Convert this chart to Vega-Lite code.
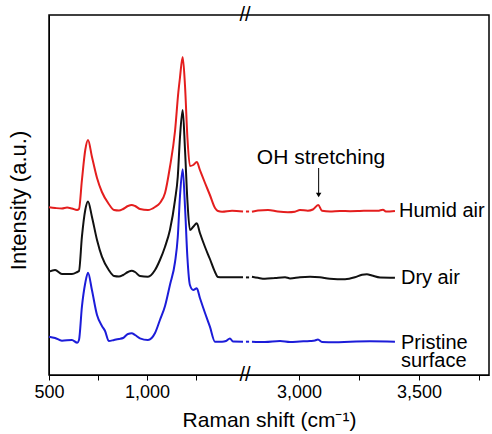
{
  "$schema": "https://vega.github.io/schema/vega-lite/v6.json",
  "width": 440,
  "height": 360,
  "autosize": {"type": "none"},
  "padding": {"left": 49, "top": 15, "right": 3, "bottom": 59},
  "config": {"view": {"stroke": "#000", "strokeWidth": 1.5}, "font": "Liberation Sans"},
  "datasets": {
    "spectra": [
      {"s":"Humid air","g":"L","x":500,"y":167.7},{"s":"Humid air","g":"L","x":531,"y":167},{"s":"Humid air","g":"L","x":566,"y":166.5},{"s":"Humid air","g":"L","x":592,"y":167.5},{"s":"Humid air","g":"L","x":617,"y":166.5},{"s":"Humid air","g":"L","x":643,"y":165},{"s":"Humid air","g":"L","x":653,"y":166},{"s":"Humid air","g":"L","x":668,"y":195},{"s":"Humid air","g":"L","x":685,"y":225},{"s":"Humid air","g":"L","x":699,"y":235},{"s":"Humid air","g":"L","x":719,"y":218.3},{"s":"Humid air","g":"L","x":745,"y":197},{"s":"Humid air","g":"L","x":770,"y":183},{"s":"Humid air","g":"L","x":805,"y":171},{"s":"Humid air","g":"L","x":832,"y":165},{"s":"Humid air","g":"L","x":857,"y":164.5},{"s":"Humid air","g":"L","x":878,"y":166},{"s":"Humid air","g":"L","x":903,"y":169},{"s":"Humid air","g":"L","x":922,"y":170},{"s":"Humid air","g":"L","x":939,"y":169},{"s":"Humid air","g":"L","x":964,"y":166},{"s":"Humid air","g":"L","x":1005,"y":165},{"s":"Humid air","g":"L","x":1041,"y":168},{"s":"Humid air","g":"L","x":1066,"y":172},{"s":"Humid air","g":"L","x":1092,"y":182},{"s":"Humid air","g":"L","x":1117,"y":208},{"s":"Humid air","g":"L","x":1143,"y":244},{"s":"Humid air","g":"L","x":1160,"y":283},{"s":"Humid air","g":"L","x":1168,"y":297},{"s":"Humid air","g":"L","x":1182,"y":318},{"s":"Humid air","g":"L","x":1194,"y":289},{"s":"Humid air","g":"L","x":1206,"y":238},{"s":"Humid air","g":"L","x":1219,"y":209},{"s":"Humid air","g":"L","x":1236,"y":210},{"s":"Humid air","g":"L","x":1254,"y":213},{"s":"Humid air","g":"L","x":1270,"y":205},{"s":"Humid air","g":"L","x":1296,"y":192},{"s":"Humid air","g":"L","x":1321,"y":180},{"s":"Humid air","g":"L","x":1347,"y":167},{"s":"Humid air","g":"L","x":1362,"y":164},{"s":"Humid air","g":"L","x":1383,"y":163.3},{"s":"Humid air","g":"L","x":1434,"y":164.3},{"s":"Humid air","g":"L","x":1490,"y":163.5},
      {"s":"Humid air","g":"D","x":2779,"y":163.5},{"s":"Humid air","g":"D","x":2792,"y":163.5},
      {"s":"Humid air","g":"R","x":2804,"y":163.3},{"s":"Humid air","g":"R","x":2829,"y":164.5},{"s":"Humid air","g":"R","x":2871,"y":165},{"s":"Humid air","g":"R","x":2912,"y":163.5},{"s":"Humid air","g":"R","x":2954,"y":162.8},{"s":"Humid air","g":"R","x":2983,"y":163.3},{"s":"Humid air","g":"R","x":3004,"y":165},{"s":"Humid air","g":"R","x":3037,"y":164.3},{"s":"Humid air","g":"R","x":3058,"y":165.5},{"s":"Humid air","g":"R","x":3080,"y":170},{"s":"Humid air","g":"R","x":3096,"y":164.3},{"s":"Humid air","g":"R","x":3129,"y":163.5},{"s":"Humid air","g":"R","x":3171,"y":164},{"s":"Humid air","g":"R","x":3213,"y":163.8},{"s":"Humid air","g":"R","x":3254,"y":164},{"s":"Humid air","g":"R","x":3296,"y":164.3},{"s":"Humid air","g":"R","x":3329,"y":164.2},{"s":"Humid air","g":"R","x":3350,"y":165.3},{"s":"Humid air","g":"R","x":3362,"y":163.5},{"s":"Humid air","g":"R","x":3400,"y":164},

      {"s":"Dry air","g":"L","x":500,"y":103.3},{"s":"Dry air","g":"L","x":531,"y":105},{"s":"Dry air","g":"L","x":566,"y":101},{"s":"Dry air","g":"L","x":617,"y":101},{"s":"Dry air","g":"L","x":644,"y":103},{"s":"Dry air","g":"L","x":653,"y":104},{"s":"Dry air","g":"L","x":668,"y":138.3},{"s":"Dry air","g":"L","x":685,"y":165},{"s":"Dry air","g":"L","x":699,"y":173.5},{"s":"Dry air","g":"L","x":719,"y":158.3},{"s":"Dry air","g":"L","x":745,"y":135},{"s":"Dry air","g":"L","x":770,"y":118.3},{"s":"Dry air","g":"L","x":805,"y":105},{"s":"Dry air","g":"L","x":832,"y":99},{"s":"Dry air","g":"L","x":857,"y":98.5},{"s":"Dry air","g":"L","x":878,"y":100},{"s":"Dry air","g":"L","x":903,"y":103},{"s":"Dry air","g":"L","x":922,"y":104.3},{"s":"Dry air","g":"L","x":939,"y":103},{"s":"Dry air","g":"L","x":964,"y":99},{"s":"Dry air","g":"L","x":1005,"y":98.3},{"s":"Dry air","g":"L","x":1041,"y":105},{"s":"Dry air","g":"L","x":1066,"y":115},{"s":"Dry air","g":"L","x":1092,"y":128.3},{"s":"Dry air","g":"L","x":1117,"y":145},{"s":"Dry air","g":"L","x":1143,"y":175},{"s":"Dry air","g":"L","x":1157,"y":198.3},{"s":"Dry air","g":"L","x":1168,"y":237},{"s":"Dry air","g":"L","x":1182,"y":265},{"s":"Dry air","g":"L","x":1194,"y":225},{"s":"Dry air","g":"L","x":1206,"y":175},{"s":"Dry air","g":"L","x":1219,"y":145},{"s":"Dry air","g":"L","x":1236,"y":148.3},{"s":"Dry air","g":"L","x":1254,"y":151.7},{"s":"Dry air","g":"L","x":1270,"y":142},{"s":"Dry air","g":"L","x":1296,"y":128},{"s":"Dry air","g":"L","x":1321,"y":116},{"s":"Dry air","g":"L","x":1347,"y":103},{"s":"Dry air","g":"L","x":1362,"y":98},{"s":"Dry air","g":"L","x":1383,"y":97.7},{"s":"Dry air","g":"L","x":1434,"y":97.7},{"s":"Dry air","g":"L","x":1490,"y":97.7},
      {"s":"Dry air","g":"D","x":2779,"y":97.6},{"s":"Dry air","g":"D","x":2792,"y":97.6},
      {"s":"Dry air","g":"R","x":2804,"y":98.3},{"s":"Dry air","g":"R","x":2829,"y":97.2},{"s":"Dry air","g":"R","x":2858,"y":96.2},{"s":"Dry air","g":"R","x":2900,"y":97},{"s":"Dry air","g":"R","x":2942,"y":97.8},{"s":"Dry air","g":"R","x":2963,"y":96.6},{"s":"Dry air","g":"R","x":3004,"y":97.8},{"s":"Dry air","g":"R","x":3046,"y":98.3},{"s":"Dry air","g":"R","x":3087,"y":97.8},{"s":"Dry air","g":"R","x":3129,"y":96.3},{"s":"Dry air","g":"R","x":3192,"y":95.8},{"s":"Dry air","g":"R","x":3233,"y":97.7},{"s":"Dry air","g":"R","x":3263,"y":100.3},{"s":"Dry air","g":"R","x":3283,"y":100.8},{"s":"Dry air","g":"R","x":3304,"y":99.5},{"s":"Dry air","g":"R","x":3338,"y":97.5},{"s":"Dry air","g":"R","x":3400,"y":97.3},

      {"s":"Pristine surface","g":"L","x":500,"y":38.3},{"s":"Pristine surface","g":"L","x":531,"y":37},{"s":"Pristine surface","g":"L","x":566,"y":34.3},{"s":"Pristine surface","g":"L","x":617,"y":35},{"s":"Pristine surface","g":"L","x":644,"y":32.3},{"s":"Pristine surface","g":"L","x":653,"y":35},{"s":"Pristine surface","g":"L","x":668,"y":68.3},{"s":"Pristine surface","g":"L","x":685,"y":92},{"s":"Pristine surface","g":"L","x":699,"y":102.3},{"s":"Pristine surface","g":"L","x":719,"y":85},{"s":"Pristine surface","g":"L","x":745,"y":60},{"s":"Pristine surface","g":"L","x":770,"y":49},{"s":"Pristine surface","g":"L","x":786,"y":44},{"s":"Pristine surface","g":"L","x":805,"y":34},{"s":"Pristine surface","g":"L","x":832,"y":35},{"s":"Pristine surface","g":"L","x":857,"y":36},{"s":"Pristine surface","g":"L","x":878,"y":37},{"s":"Pristine surface","g":"L","x":903,"y":41},{"s":"Pristine surface","g":"L","x":922,"y":41.7},{"s":"Pristine surface","g":"L","x":939,"y":40},{"s":"Pristine surface","g":"L","x":964,"y":36.7},{"s":"Pristine surface","g":"L","x":1005,"y":35},{"s":"Pristine surface","g":"L","x":1041,"y":42},{"s":"Pristine surface","g":"L","x":1066,"y":55},{"s":"Pristine surface","g":"L","x":1092,"y":69},{"s":"Pristine surface","g":"L","x":1117,"y":90},{"s":"Pristine surface","g":"L","x":1143,"y":113},{"s":"Pristine surface","g":"L","x":1157,"y":138},{"s":"Pristine surface","g":"L","x":1168,"y":178},{"s":"Pristine surface","g":"L","x":1182,"y":205.7},{"s":"Pristine surface","g":"L","x":1194,"y":168},{"s":"Pristine surface","g":"L","x":1206,"y":118},{"s":"Pristine surface","g":"L","x":1219,"y":90},{"s":"Pristine surface","g":"L","x":1236,"y":85},{"s":"Pristine surface","g":"L","x":1254,"y":86.7},{"s":"Pristine surface","g":"L","x":1270,"y":77},{"s":"Pristine surface","g":"L","x":1296,"y":62},{"s":"Pristine surface","g":"L","x":1321,"y":48.3},{"s":"Pristine surface","g":"L","x":1347,"y":33.3},{"s":"Pristine surface","g":"L","x":1383,"y":33.3},{"s":"Pristine surface","g":"L","x":1403,"y":34},{"s":"Pristine surface","g":"L","x":1423,"y":36.5},{"s":"Pristine surface","g":"L","x":1439,"y":33.5},{"s":"Pristine surface","g":"L","x":1490,"y":33.3},
      {"s":"Pristine surface","g":"D","x":2779,"y":33.3},{"s":"Pristine surface","g":"D","x":2792,"y":33.3},
      {"s":"Pristine surface","g":"R","x":2804,"y":33.3},{"s":"Pristine surface","g":"R","x":2858,"y":33},{"s":"Pristine surface","g":"R","x":2921,"y":34},{"s":"Pristine surface","g":"R","x":2963,"y":33},{"s":"Pristine surface","g":"R","x":3004,"y":33.5},{"s":"Pristine surface","g":"R","x":3046,"y":34},{"s":"Pristine surface","g":"R","x":3067,"y":34.5},{"s":"Pristine surface","g":"R","x":3079,"y":35.5},{"s":"Pristine surface","g":"R","x":3096,"y":33},{"s":"Pristine surface","g":"R","x":3150,"y":32.7},{"s":"Pristine surface","g":"R","x":3213,"y":33.3},{"s":"Pristine surface","g":"R","x":3296,"y":33.7},{"s":"Pristine surface","g":"R","x":3400,"y":33.3}
    ],
    "labels": [
      {"t":"Humid air","x":3417,"y":164},
      {"t":"Dry air","x":3425,"y":97.3},
      {"t":"Pristine\nsurface","x":3425,"y":32}
    ],
    "note": [{"t":"OH stretching","x":3092,"y":217}],
    "arrow": [{"x":3082,"y":207,"y2":182}],
    "head": [{"x":3082,"y":180}],
    "breaks": [{"x":1500,"y":360},{"x":1500,"y":0}]
  },
  "encoding": {
    "x": {
      "field": "x", "type": "quantitative",
      "scale": {"domain": [500, 1500, 2775, 3792], "range": [0, 196, 196, 440], "nice": false, "zero": false},
      "axis": {
        "values": [500, 750, 1000, 1250, 3000, 3250, 3500, 3750],
        "labelExpr": "datum.value % 500 == 0 ? format(datum.value, ',') : ''",
        "title": "Raman shift (cm⁻¹)",
        "grid": false, "domainColor": "#000", "tickColor": "#000", "tickSize": 5,
        "labelFontSize": 18, "labelColor": "#000", "labelPadding": 3, "labelFlush": false, "labelOverlap": false,
        "titleFontSize": 21, "titleFontWeight": "normal", "titleColor": "#000", "titlePadding": 8
      }
    },
    "y": {
      "field": "y", "type": "quantitative",
      "scale": {"domain": [0, 360], "nice": false, "zero": false},
      "axis": {
        "ticks": false, "labels": false, "grid": false, "domainColor": "#000",
        "title": "Intensity (a.u.)", "titleFontSize": 22, "titleFontWeight": "normal", "titleColor": "#000", "titlePadding": 19, "titleY": 185
      }
    }
  },
  "layer": [
    {
      "data": {"name": "spectra"},
      "mark": {"type": "line", "strokeWidth": 2, "interpolate": "monotone"},
      "encoding": {
        "color": {"field": "s", "type": "nominal", "scale": {"domain": ["Humid air", "Dry air", "Pristine surface"], "range": ["#e41e1e", "#111111", "#1c1cd9"]}, "legend": null},
        "detail": {"field": "g"}
      }
    },
    {
      "data": {"name": "labels"},
      "mark": {"type": "text", "align": "left", "baseline": "middle", "fontSize": 20, "lineHeight": 18, "lineBreak": "\n", "color": "#000"},
      "encoding": {"text": {"field": "t"}}
    },
    {
      "data": {"name": "note"},
      "mark": {"type": "text", "align": "center", "baseline": "middle", "fontSize": 21, "color": "#000"},
      "encoding": {"text": {"field": "t"}}
    },
    {
      "data": {"name": "arrow"},
      "mark": {"type": "rule", "color": "#000", "strokeWidth": 1},
      "encoding": {"y2": {"field": "y2"}}
    },
    {
      "data": {"name": "head"},
      "mark": {"type": "point", "shape": "triangle-down", "filled": true, "color": "#000", "size": 30, "opacity": 1},
      "encoding": {}
    },
    {
      "data": {"name": "breaks"},
      "mark": {"type": "text", "text": "//", "align": "center", "baseline": "middle", "fontSize": 20, "color": "#000"},
      "encoding": {}
    }
  ]
}
